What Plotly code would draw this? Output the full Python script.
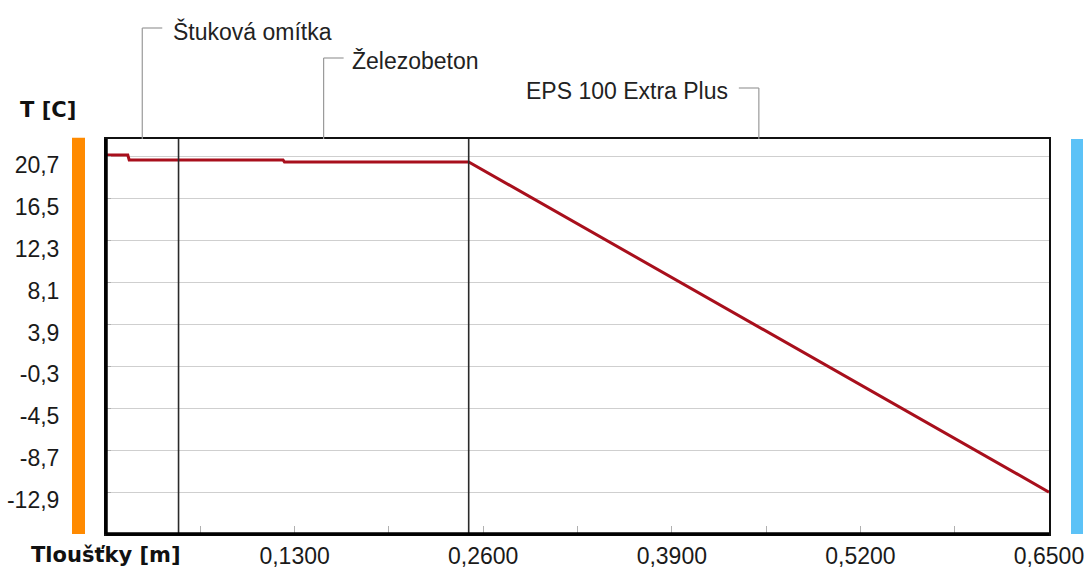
import plotly.graph_objects as go

# ---- data ----
layer_names = ["Štuková omítka", "Železobeton", "EPS 100 Extra Plus"]
layer_bounds = [0.0, 0.05, 0.25, 0.65]          # m (as drawn)
profile_x = [0.0, 0.015, 0.016, 0.122, 0.123, 0.25, 0.65]   # m
profile_t = [20.9, 20.9, 20.4, 20.4, 20.2, 20.2, -12.9]      # °C
y_ticks = [20.7, 16.5, 12.3, 8.1, 3.9, -0.3, -4.5, -8.7, -12.9]
x_ticks = [0.13, 0.26, 0.39, 0.52, 0.65]
x_minor = [0.065, 0.195, 0.325, 0.455, 0.585]

# ---- layout constants ----
W, H = 1091, 570
ML, MR, MT, MB = 106, 42, 139, 36
PW, PH = W - ML - MR, H - MT - MB
XR = [0.0, 0.65]
YR = [-17.1, 22.5]

FONT = "Liberation Sans, Arial, sans-serif"
BOLD = "DejaVu Sans, Verdana, sans-serif"

fig = go.Figure()

fig.add_trace(go.Scatter(
    x=profile_x, y=profile_t, mode="lines",
    line=dict(color="#A80F1C", width=3), hoverinfo="skip", showlegend=False))

# layer boundaries
for b in layer_bounds[1:-1]:
    fig.add_shape(type="line", xref="x", yref="paper", x0=b, x1=b, y0=0, y1=1,
                  line=dict(color="#2a2a2a", width=1.6), layer="above")

# extra-thick left and bottom border
fig.add_shape(type="line", xref="paper", yref="paper", x0=0, x1=0, y0=0, y1=1,
              line=dict(color="#000", width=3.5), layer="above")
fig.add_shape(type="line", xref="paper", yref="paper", x0=0, x1=1, y0=0, y1=0,
              line=dict(color="#000", width=3.5), layer="above")

# interior / exterior colour bars
fig.add_shape(type="rect", xref="paper", yref="paper",
              x0=(72 - ML) / PW, x1=(85 - ML) / PW, y0=0, y1=1.003,
              line=dict(width=0), fillcolor="#FF8A00")
fig.add_shape(type="rect", xref="paper", yref="paper",
              x0=(1071 - ML) / PW, x1=(1083 - ML) / PW, y0=0, y1=1.0,
              line=dict(width=0), fillcolor="#5CC2F7")

# layer labels with leader lines
leader_h = [111, 81, 51]
leader_dir = [1, 1, -1]
text_dx = [29, 26, -29]
for name, a, b, h, d, dx in zip(layer_names, layer_bounds[:-1], layer_bounds[1:],
                                leader_h, leader_dir, text_dx):
    mid = (a + b) / 2
    yy = 1 + h / PH
    fig.add_shape(type="line", xref="x", yref="paper", x0=mid, x1=mid, y0=1, y1=yy,
                  line=dict(color="#9a9a9a", width=1.2))
    fig.add_shape(type="line", xref="x", yref="paper", xsizemode="pixel", xanchor=mid,
                  x0=0, x1=20 * d, y0=yy, y1=yy, line=dict(color="#9a9a9a", width=1.2))
    fig.add_annotation(x=mid, y=yy, xref="x", yref="paper", text=name, showarrow=False,
                       xanchor="left" if d > 0 else "right", yanchor="middle",
                       xshift=dx, yshift=-3,
                       font=dict(family=FONT, size=23, color="#222"))

# axis titles
fig.add_annotation(x=(18 - ML) / PW, y=(H - MB - 110) / PH, xref="paper", yref="paper",
                   text="<b>T [C]</b>", showarrow=False, xanchor="left", yanchor="middle",
                   font=dict(family=BOLD, size=21, color="#111"))
fig.add_annotation(x=(29 - ML) / PW, y=(H - MB - 555) / PH, xref="paper", yref="paper",
                   text="<b>Tloušťky [m]</b>", showarrow=False, xanchor="left", yanchor="middle",
                   font=dict(family=BOLD, size=21, color="#111"))

fig.update_layout(
    width=W, height=H, margin=dict(l=ML, r=MR, t=MT, b=MB),
    paper_bgcolor="white", plot_bgcolor="white", showlegend=False,
    xaxis=dict(range=XR, tickvals=x_ticks, automargin=False,
               ticktext=[f"{v:.4f}".replace(".", ",") for v in x_ticks],
               ticks="inside", ticklen=8, tickcolor="#b0b0b0", tickwidth=1,
               minor=dict(tickvals=x_minor, ticks="inside", ticklen=8,
                          tickcolor="#b0b0b0", tickwidth=1),
               showgrid=False, zeroline=False,
               showline=True, mirror=True, linecolor="#111", linewidth=2,
               tickfont=dict(family=FONT, size=23, color="#1a1a1a")),
    yaxis=dict(range=YR, tickvals=y_ticks, automargin=False,
               ticktext=[f"{v:.1f}".replace(".", ",") for v in y_ticks],
               ticks="inside", ticklen=5, tickcolor="#b0b0b0",
               showgrid=True, gridcolor="#cfcfcf", gridwidth=1, zeroline=False,
               showline=True, mirror=True, linecolor="#111", linewidth=2,
               ticklabelshift=8, ticklabelstandoff=40,
               tickfont=dict(family=FONT, size=23, color="#1a1a1a")),
)

fig.write_html("out.html", config={"displayModeBar": False},
               post_script="document.body.style.margin='0';document.body.style.overflow='hidden';")
